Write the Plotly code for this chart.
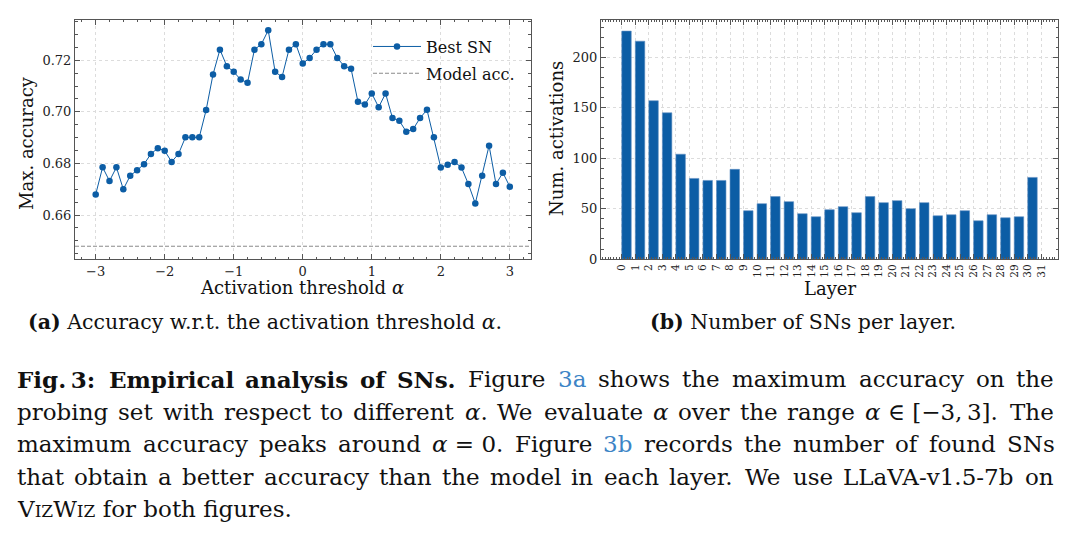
import re
import plotly.graph_objects as go

# ---------------- data ----------------
alpha = [-3.0, -2.9, -2.8, -2.7, -2.6, -2.5, -2.4, -2.3, -2.2, -2.1,
         -2.0, -1.9, -1.8, -1.7, -1.6, -1.5, -1.4, -1.3, -1.2, -1.1,
         -1.0, -0.9, -0.8, -0.7, -0.6, -0.5, -0.4, -0.3, -0.2, -0.1,
         0.0, 0.1, 0.2, 0.3, 0.4, 0.5, 0.6, 0.7, 0.8, 0.9,
         1.0, 1.1, 1.2, 1.3, 1.4, 1.5, 1.6, 1.7, 1.8, 1.9,
         2.0, 2.1, 2.2, 2.3, 2.4, 2.5, 2.6, 2.7, 2.8, 2.9, 3.0]
best_sn_acc = [0.6680, 0.6785, 0.6732, 0.6785, 0.6700, 0.6752, 0.6774, 0.6797, 0.6837, 0.6859,
               0.6849, 0.6806, 0.6837, 0.6901, 0.6901, 0.6901, 0.7007, 0.7145, 0.7241, 0.7177,
               0.7155, 0.7125, 0.7113, 0.7241, 0.7262, 0.7316, 0.7155, 0.7135, 0.7241, 0.7262,
               0.7187, 0.7209, 0.7241, 0.7262, 0.7262, 0.7209, 0.7177, 0.7167, 0.7039, 0.7028,
               0.7071, 0.7018, 0.7071, 0.6976, 0.6965, 0.6923, 0.6933, 0.6976, 0.7008, 0.6901,
               0.6784, 0.6795, 0.6806, 0.6784, 0.6720, 0.6645, 0.6752, 0.6869, 0.6720, 0.6764, 0.6710]
model_acc = 0.6479

layers = list(range(31))
num_activations = [226, 216, 157, 145, 104, 80, 78, 78, 89, 48, 55, 62, 57, 45, 42, 49,
                   52, 46, 62, 56, 58, 50, 56, 43, 44, 48, 38, 44, 41, 42, 81]
layer_ticks = list(range(32))
layer_tick_labels = [str(i) for i in layer_ticks]

alpha_ticks = [-3, -2, -1, 0, 1, 2, 3]
alpha_tick_labels = ["\u22123", "\u22122", "\u22121", "0", "1", "2", "3"]
acc_ticks = [0.66, 0.68, 0.70, 0.72]
acc_tick_labels = ["0.66", "0.68", "0.70", "0.72"]
num_ticks = [0, 50, 100, 150, 200]

# ---------------- style ----------------
W, H = 1080, 547
FONT = "DejaVu Serif"
BLUE = "#0C5DA5"
FRAME = "#555555"
GRID = "#dcdcdc"
LINK = "#3d84c6"
DASH_COL = "#8a8a8a"


def px(x):
    return x / W


def py(y):
    return 1 - y / H


fig = go.Figure()

fig.add_trace(go.Scatter(
    x=alpha, y=best_sn_acc, mode="lines+markers", name="Best SN",
    legendgroup="a",
    line=dict(color=BLUE, width=1), marker=dict(color=BLUE, size=6.5),
    xaxis="x", yaxis="y"))
fig.add_trace(go.Scatter(
    x=[None], y=[None], mode="lines", name="Model acc.", legendgroup="b",
    line=dict(color=DASH_COL, width=1, dash="4px,2px"),
    xaxis="x", yaxis="y"))
fig.add_shape(type="line", xref="x domain", yref="y", x0=0, x1=1,
              y0=model_acc, y1=model_acc,
              line=dict(color=DASH_COL, width=1, dash="4px,2px"))

fig.add_trace(go.Bar(
    x=layers, y=num_activations, width=0.7, offset=0,
    marker=dict(color=BLUE, line=dict(width=0.6, color="#5f8fc2")),
    showlegend=False, xaxis="x2", yaxis="y2"))

axis_common = dict(
    showline=True, linecolor=FRAME, linewidth=1, mirror="allticks",
    ticks="inside", ticklen=5, tickwidth=1, tickcolor=FRAME,
    showgrid=True, gridcolor=GRID, griddash="dot", gridwidth=1,
    zeroline=False, tickfont=dict(family=FONT, size=13, color="#222"),
)

ydom = [py(263), py(20)]

fig.update_layout(
    width=W, height=H, margin=dict(l=0, r=0, t=0, b=0),
    paper_bgcolor="white", plot_bgcolor="white",
    font=dict(family=FONT, color="#111"),
    xaxis=dict(domain=[px(75), px(530.5)], range=[-3.3, 3.3],
               tickmode="array", tickvals=alpha_ticks, ticktext=alpha_tick_labels,
               minor=dict(dtick=0.2, tick0=0, ticks="inside", ticklen=2.5,
                          tickcolor=FRAME, showgrid=False),
               anchor="y", **axis_common),
    yaxis=dict(domain=ydom, range=[0.6429, 0.7357],
               tickmode="array", tickvals=acc_ticks, ticktext=acc_tick_labels,
               minor=dict(dtick=0.005, tick0=0.66, ticks="inside", ticklen=2.5,
                          tickcolor=FRAME, showgrid=False),
               anchor="x", **axis_common),
    xaxis2=dict(domain=[px(601), px(1058)], range=[-1.535, 32.235],
                tickmode="array", tickvals=layer_ticks, ticktext=layer_tick_labels,
                tickangle=-90,
                minor=dict(dtick=0.2, tick0=0, ticks="inside", ticklen=2.5,
                           tickcolor=FRAME, showgrid=False),
                anchor="y2",
                **{**axis_common, "tickfont": dict(family=FONT, size=10.5, color="#222")}),
    yaxis2=dict(domain=ydom, range=[0, 237.3],
                tickmode="array", tickvals=num_ticks,
                minor=dict(dtick=10, tick0=0, ticks="inside", ticklen=2.5,
                           tickcolor=FRAME, showgrid=False),
                anchor="x2", **axis_common),
    legend=dict(x=px(368), y=py(30), xanchor="left", yanchor="top",
                bgcolor="rgba(0,0,0,0)", borderwidth=0, itemwidth=48,
                tracegroupgap=3,
                font=dict(family=FONT, size=16, color="#111")),
    showlegend=True,
)


def ann(text, x, y, size, xanchor="center", angle=0, color="#111"):
    fig.add_annotation(text=text, x=px(x), y=py(y), xref="paper", yref="paper",
                       xanchor=xanchor, yanchor="middle", showarrow=False,
                       textangle=angle, borderpad=0,
                       font=dict(family=FONT, size=size, color=color))


# axis titles
ann("Max. accuracy", 27, 145, 18, angle=-90)
ann("Activation threshold <i>\u03b1</i>", 302, 292, 18)
ann("Num. activations", 557, 141, 18, angle=-90)
ann("Layer", 830, 293, 18)

# sub-captions
ann("<b>(a)</b> Accuracy w.r.t. the activation threshold <i>\u03b1</i>.", 265, 327, 20.5)
ann("<b>(b)</b> Number of SNs per layer.", 803, 327, 20.5)

# ---------------- main caption (justified word placement) ----------------
CW = {
    'a': .596, 'b': .640, 'c': .560, 'd': .640, 'e': .592, 'f': .370, 'g': .640, 'h': .644,
    'i': .320, 'j': .310, 'k': .606, 'l': .320, 'm': .948, 'n': .644, 'o': .602, 'p': .640,
    'q': .640, 'r': .478, 's': .513, 't': .402, 'u': .644, 'v': .565, 'w': .856, 'x': .564,
    'y': .565, 'z': .527,
    'A': .722, 'B': .735, 'C': .765, 'D': .802, 'E': .730, 'F': .694, 'G': .799, 'H': .872,
    'I': .395, 'J': .401, 'K': .747, 'L': .664, 'M': 1.024, 'N': .837, 'O': .820, 'P': .673,
    'Q': .820, 'R': .753, 'S': .685, 'T': .667, 'U': .812, 'V': .722, 'W': 1.028, 'X': .712,
    'Y': .659, 'Z': .695,
    '.': .318, ',': .318, ':': .337, '-': .338, '(': .390, ')': .390, '[': .390, ']': .390,
    '=': .838, '\u2212': .838, '\u2208': .871, '\u03b1': .660, ' ': .318, '\u2009': .200,
}


def text_width(token, size):
    plain = re.sub(r"<[^>]+>", "", token)
    w = sum(CW.get(ch, .636 if ch.isdigit() else .6) for ch in plain) * size
    if token.startswith("<b>"):
        w *= 1.1
    return w


def link(t):
    return f"<span style='color:{LINK}'>{t}</span>"


A = "<i>\u03b1</i>"
CAP = 23
L, R = 16, 1053
caption_lines = [
    ["<b>Fig.\u20093:</b>", "<b>Empirical</b>", "<b>analysis</b>", "<b>of</b>", "<b>SNs.</b>",
     "Figure", link("3a"), "shows", "the", "maximum", "accuracy", "on", "the"],
    ["probing", "set", "with", "respect", "to", "different", A + ".", "We", "evaluate", A,
     "over", "the", "range", A + " \u2208 [\u22123,\u20093].", "The"],
    ["maximum", "accuracy", "peaks", "around", A + " = 0.", "Figure", link("3b"), "records",
     "the", "number", "of", "found", "SNs"],
    ["that", "obtain", "a", "better", "accuracy", "than", "the", "model", "in", "each",
     "layer.", "We", "use", "LLaVA-v1.5-7b", "on"],
]
ys = [385, 418, 451, 484, 517]
for tokens, yy in zip(caption_lines, ys):
    widths = [text_width(t, CAP) for t in tokens]
    gap = (R - L - sum(widths)) / (len(tokens) - 1)
    xx = L
    for t, w in zip(tokens, widths):
        ann(t, xx, yy, CAP, xanchor="left")
        xx += w + gap

sc = "<span style='font-size:17px'>IZ</span>"
ann(f"V{sc}W{sc} for both figures.", L, ys[4], CAP, xanchor="left")

fig.write_html("out.html")
